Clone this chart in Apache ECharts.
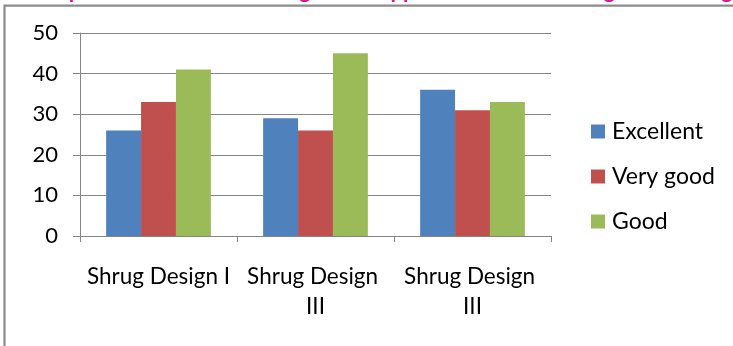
<!DOCTYPE html>
<html>
<head>
<meta charset="utf-8">
<script src="https://cdn.jsdelivr.net/npm/echarts@6/dist/echarts.min.js"></script>
<style>
  html, body { margin: 0; padding: 0; background: #fff; }
  #chart { width: 733px; height: 346px; }
</style>
</head>
<body>
<div id="chart"></div>
<script>
// Ratings of the shrug designs
const categories = ['Shrug Design I', 'Shrug Design III', 'Shrug Design III'];
const excellent = [26, 29, 36];
const veryGood = [33, 26, 31];
const good = [41, 45, 33];
const seriesNames = ['Excellent', 'Very good', 'Good'];
const yTicks = { min: 0, max: 50, step: 10 };
const headline = 'Response of the users rating of the appearance of the shrug in the designs';

const FONT = 'Lato';
const AXIS_GREY = '#868686';
const palette = ['#4F81BD', '#C0504D', '#9BBB59'];

const chart = echarts.init(document.getElementById('chart'), null, { renderer: 'canvas' });

const barSeries = [excellent, veryGood, good].map((vals, i) => ({
  name: seriesNames[i],
  type: 'bar',
  data: vals,
  barGap: '0%',
  barCategoryGap: '33.3%',
  itemStyle: { color: palette[i] }
}));

chart.setOption({
  animation: false,
  backgroundColor: '#fff',
  textStyle: { fontFamily: FONT },
  graphic: [
    {
      type: 'rect',
      shape: { x: 4.5, y: 5.7, width: 900, height: 600 },
      style: { fill: 'none', stroke: '#8c8c8c', lineWidth: 2.2 },
      silent: true
    },
    {
      type: 'text',
      x: 34, y: -9,
      style: {
        text: headline,
        fill: '#E0139E',
        font: 'bold 22px ' + FONT,
        verticalAlign: 'middle'
      },
      silent: true
    }
  ],
  grid: {
    left: 80, right: 182, top: 33, bottom: 110,
    outerBoundsMode: 'none'
  },
  legend: {
    orient: 'vertical',
    left: 591,
    top: 120,
    padding: 0,
    itemWidth: 14,
    itemHeight: 14,
    itemGap: 22,
    icon: 'rect',
    textStyle: { fontFamily: FONT, fontSize: 23, color: '#000', lineHeight: 23, padding: [0, 0, 0, 2] },
    data: seriesNames
  },
  xAxis: {
    type: 'category',
    data: categories,
    axisLine: { lineStyle: { color: AXIS_GREY, width: 1 } },
    axisTick: { show: true, length: 6, lineStyle: { color: AXIS_GREY } },
    axisLabel: {
      interval: 0,
      margin: 26,
      fontFamily: FONT,
      fontSize: 22.5,
      color: '#000',
      lineHeight: 30,
      width: 148,
      overflow: 'break'
    }
  },
  yAxis: {
    type: 'value',
    min: yTicks.min,
    max: yTicks.max,
    interval: yTicks.step,
    axisLine: { show: true, lineStyle: { color: AXIS_GREY, width: 1 } },
    axisTick: { show: true, length: 7, lineStyle: { color: AXIS_GREY } },
    splitLine: { lineStyle: { color: AXIS_GREY, width: 1 } },
    axisLabel: { margin: 22, fontFamily: FONT, fontSize: 22, color: '#000' }
  },
  series: barSeries
});
</script>
</body>
</html>
